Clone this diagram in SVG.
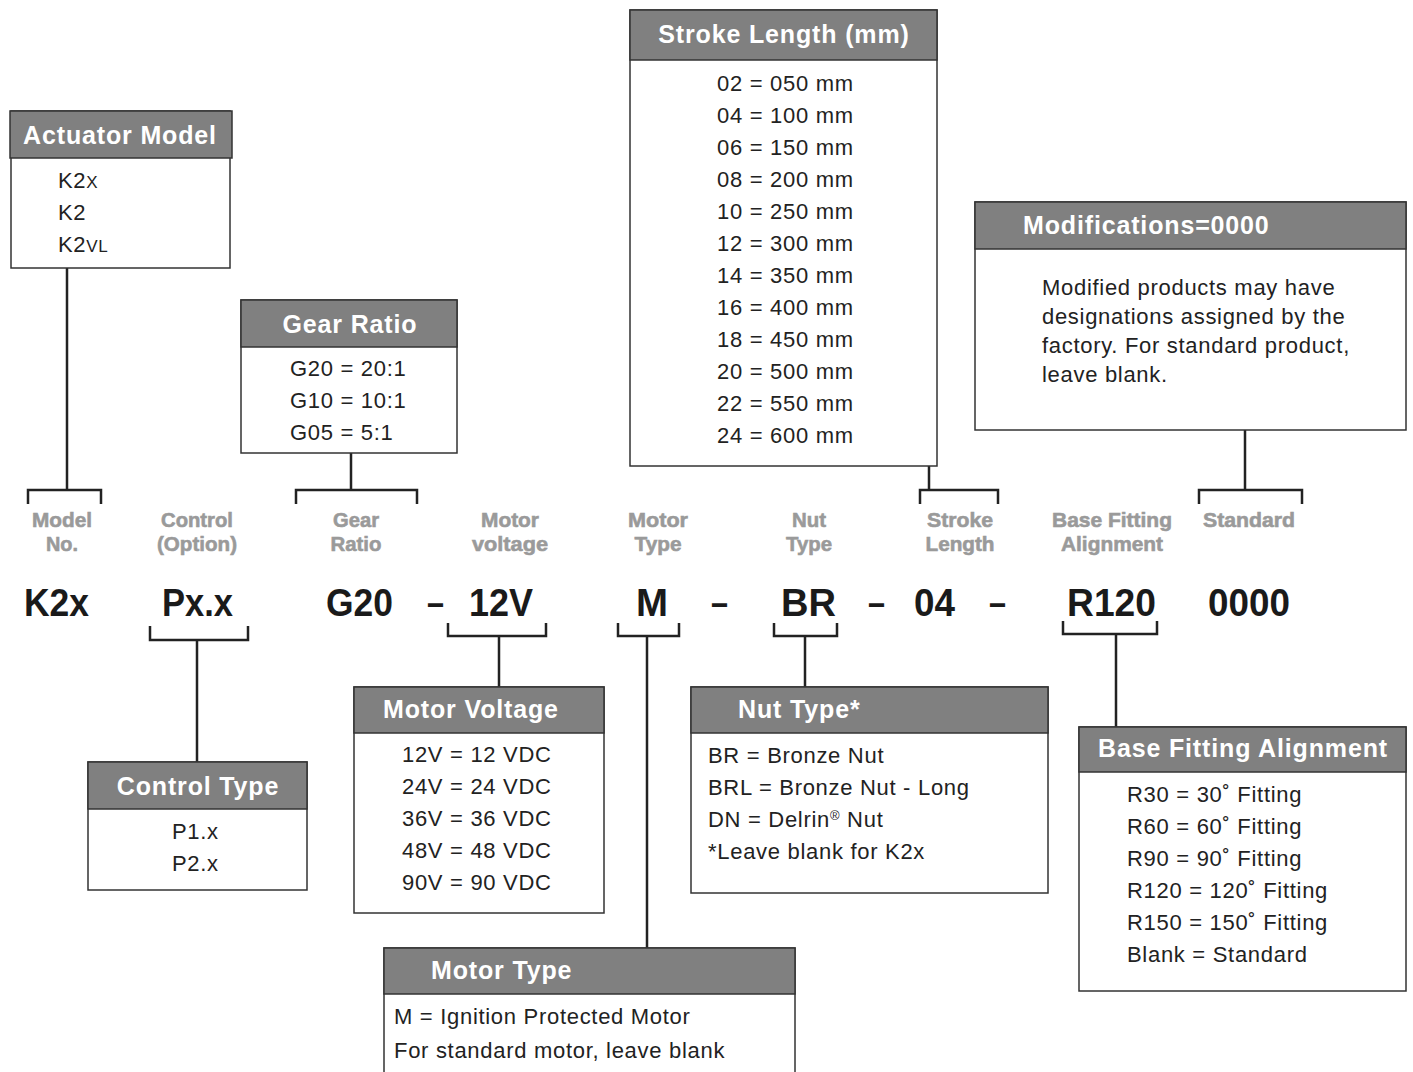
<svg xmlns="http://www.w3.org/2000/svg" width="1413" height="1072" viewBox="0 0 1413 1072">
<style>
.box{fill:#fff;stroke:#333;stroke-width:1.5}
.hdr{fill:#808080;stroke:#333;stroke-width:1.5}
.ht{font-family:"Liberation Sans",Arial,sans-serif;font-weight:bold;font-size:25px;fill:#fff;letter-spacing:0.85px}
.bt{font-family:"Liberation Sans",Arial,sans-serif;font-size:22px;fill:#222;letter-spacing:0.7px}
.lb{font-family:"Liberation Sans",Arial,sans-serif;font-weight:bold;font-size:21px;fill:#9a9a9a;stroke:#9a9a9a;stroke-width:0.6;text-anchor:middle}
.cd{font-family:"Liberation Sans",Arial,sans-serif;font-weight:bold;font-size:38px;fill:#1a1a1a;text-anchor:middle}
.ln{fill:none;stroke:#222;stroke-width:2.5}
</style>

<g id="connectors">
  <path class="ln" d="M67 268V490M28 504V490H101V504"/>
  <path class="ln" d="M351 453V490M296 504V490H417V504"/>
  <path class="ln" d="M929 466V490M920 504V490H998V504"/>
  <path class="ln" d="M1245 430V490M1199 504V490H1302V504"/>
  <path class="ln" d="M150 626V640H248V626M197 640V762"/>
  <path class="ln" d="M448 623V636H546V623M499 636V687"/>
  <path class="ln" d="M618 623V636H679V623M647 636V948"/>
  <path class="ln" d="M774 623V636H837V623M805 636V687"/>
  <path class="ln" d="M1063 621V634H1157V621M1116 634V727"/>
</g>

<g id="labels">
  <text class="lb" x="62" y="527" textLength="60" lengthAdjust="spacingAndGlyphs">Model</text>
  <text class="lb" x="62" y="551" textLength="32" lengthAdjust="spacingAndGlyphs">No.</text>
  <text class="lb" x="197" y="527" textLength="72" lengthAdjust="spacingAndGlyphs">Control</text>
  <text class="lb" x="197" y="551" textLength="80" lengthAdjust="spacingAndGlyphs">(Option)</text>
  <text class="lb" x="356" y="527" textLength="46" lengthAdjust="spacingAndGlyphs">Gear</text>
  <text class="lb" x="356" y="551" textLength="51" lengthAdjust="spacingAndGlyphs">Ratio</text>
  <text class="lb" x="510" y="527" textLength="58" lengthAdjust="spacingAndGlyphs">Motor</text>
  <text class="lb" x="510" y="551" textLength="76" lengthAdjust="spacingAndGlyphs">voltage</text>
  <text class="lb" x="658" y="527" textLength="60" lengthAdjust="spacingAndGlyphs">Motor</text>
  <text class="lb" x="658" y="551" textLength="47" lengthAdjust="spacingAndGlyphs">Type</text>
  <text class="lb" x="809" y="527" textLength="34" lengthAdjust="spacingAndGlyphs">Nut</text>
  <text class="lb" x="809" y="551" textLength="46" lengthAdjust="spacingAndGlyphs">Type</text>
  <text class="lb" x="960" y="527" textLength="66" lengthAdjust="spacingAndGlyphs">Stroke</text>
  <text class="lb" x="960" y="551" textLength="69" lengthAdjust="spacingAndGlyphs">Length</text>
  <text class="lb" x="1112" y="527" textLength="120" lengthAdjust="spacingAndGlyphs">Base Fitting</text>
  <text class="lb" x="1112" y="551" textLength="102" lengthAdjust="spacingAndGlyphs">Alignment</text>
  <text class="lb" x="1249" y="527" textLength="92" lengthAdjust="spacingAndGlyphs">Standard</text>
</g>

<g id="code">
  <text class="cd" x="56.5" y="616" textLength="65" lengthAdjust="spacingAndGlyphs">K2x</text>
  <text class="cd" x="197.5" y="616" textLength="71" lengthAdjust="spacingAndGlyphs">Px.x</text>
  <text class="cd" x="359.5" y="616" textLength="67" lengthAdjust="spacingAndGlyphs">G20</text>
  <text class="cd" x="435.5" y="616" textLength="17" lengthAdjust="spacingAndGlyphs">–</text>
  <text class="cd" x="501" y="616" textLength="64" lengthAdjust="spacingAndGlyphs">12V</text>
  <text class="cd" x="652" y="616" textLength="32" lengthAdjust="spacingAndGlyphs">M</text>
  <text class="cd" x="719.5" y="616" textLength="17" lengthAdjust="spacingAndGlyphs">–</text>
  <text class="cd" x="808.5" y="616" textLength="55" lengthAdjust="spacingAndGlyphs">BR</text>
  <text class="cd" x="876.5" y="616" textLength="17" lengthAdjust="spacingAndGlyphs">–</text>
  <text class="cd" x="934.5" y="616" textLength="41" lengthAdjust="spacingAndGlyphs">04</text>
  <text class="cd" x="997.5" y="616" textLength="17" lengthAdjust="spacingAndGlyphs">–</text>
  <text class="cd" x="1111.5" y="616" textLength="89" lengthAdjust="spacingAndGlyphs">R120</text>
  <text class="cd" x="1249" y="616" textLength="82" lengthAdjust="spacingAndGlyphs">0000</text>
</g>

<g id="actuator-model">
  <rect class="box" x="11" y="111" width="219" height="157"/>
  <rect class="hdr" x="10" y="111" width="222" height="47"/>
  <text class="ht" x="120" y="144" text-anchor="middle">Actuator Model</text>
  <text class="bt" x="58" y="188">K2<tspan font-size="17">X</tspan></text>
  <text class="bt" x="58" y="220">K2</text>
  <text class="bt" x="58" y="252">K2<tspan font-size="17">VL</tspan></text>
</g>

<g id="gear-ratio">
  <rect class="box" x="241" y="300" width="216" height="153"/>
  <rect class="hdr" x="241" y="300" width="216" height="47"/>
  <text class="ht" x="350" y="333" text-anchor="middle">Gear Ratio</text>
  <text class="bt" x="290" y="376">G20 = 20:1</text>
  <text class="bt" x="290" y="408">G10 = 10:1</text>
  <text class="bt" x="290" y="440">G05 = 5:1</text>
</g>

<g id="stroke-length">
  <rect class="box" x="630" y="10" width="307" height="456"/>
  <rect class="hdr" x="630" y="10" width="307" height="50"/>
  <text class="ht" x="784" y="43" text-anchor="middle">Stroke Length (mm)</text>
  <text class="bt" x="717" y="91">02 = 050 mm</text>
  <text class="bt" x="717" y="123">04 = 100 mm</text>
  <text class="bt" x="717" y="155">06 = 150 mm</text>
  <text class="bt" x="717" y="187">08 = 200 mm</text>
  <text class="bt" x="717" y="219">10 = 250 mm</text>
  <text class="bt" x="717" y="251">12 = 300 mm</text>
  <text class="bt" x="717" y="283">14 = 350 mm</text>
  <text class="bt" x="717" y="315">16 = 400 mm</text>
  <text class="bt" x="717" y="347">18 = 450 mm</text>
  <text class="bt" x="717" y="379">20 = 500 mm</text>
  <text class="bt" x="717" y="411">22 = 550 mm</text>
  <text class="bt" x="717" y="443">24 = 600 mm</text>
</g>

<g id="modifications">
  <rect class="box" x="975" y="202" width="431" height="228"/>
  <rect class="hdr" x="975" y="202" width="431" height="47"/>
  <text class="ht" x="1023" y="234">Modifications=0000</text>
  <text class="bt" x="1042" y="295">Modified products may have</text>
  <text class="bt" x="1042" y="324">designations assigned by the</text>
  <text class="bt" x="1042" y="353">factory. For standard product,</text>
  <text class="bt" x="1042" y="382">leave blank.</text>
</g>

<g id="control-type">
  <rect class="box" x="88" y="762" width="219" height="128"/>
  <rect class="hdr" x="88" y="762" width="219" height="47"/>
  <text class="ht" x="198" y="795" text-anchor="middle">Control Type</text>
  <text class="bt" x="172" y="839">P1.x</text>
  <text class="bt" x="172" y="871">P2.x</text>
</g>

<g id="motor-voltage">
  <rect class="box" x="354" y="687" width="250" height="226"/>
  <rect class="hdr" x="354" y="687" width="250" height="46"/>
  <text class="ht" x="383" y="718">Motor Voltage</text>
  <text class="bt" x="402" y="762">12V = 12 VDC</text>
  <text class="bt" x="402" y="794">24V = 24 VDC</text>
  <text class="bt" x="402" y="826">36V = 36 VDC</text>
  <text class="bt" x="402" y="858">48V = 48 VDC</text>
  <text class="bt" x="402" y="890">90V = 90 VDC</text>
</g>

<g id="nut-type">
  <rect class="box" x="691" y="687" width="357" height="206"/>
  <rect class="hdr" x="691" y="687" width="357" height="46"/>
  <text class="ht" x="738" y="718">Nut Type*</text>
  <text class="bt" x="708" y="763">BR = Bronze Nut</text>
  <text class="bt" x="708" y="795">BRL = Bronze Nut - Long</text>
  <text class="bt" x="708" y="827">DN = Delrin<tspan font-size="13" dy="-7">®</tspan><tspan dy="7"> Nut</tspan></text>
  <text class="bt" x="708" y="859">*Leave blank for K2x</text>
</g>

<g id="base-fitting-alignment">
  <rect class="box" x="1079" y="727" width="327" height="264"/>
  <rect class="hdr" x="1079" y="727" width="327" height="45"/>
  <text class="ht" x="1243" y="757" text-anchor="middle">Base Fitting Alignment</text>
  <text class="bt" x="1127" y="802">R30 = 30˚ Fitting</text>
  <text class="bt" x="1127" y="834">R60 = 60˚ Fitting</text>
  <text class="bt" x="1127" y="866">R90 = 90˚  Fitting</text>
  <text class="bt" x="1127" y="898">R120 = 120˚  Fitting</text>
  <text class="bt" x="1127" y="930">R150 = 150˚ Fitting</text>
  <text class="bt" x="1127" y="962">Blank = Standard</text>
</g>

<g id="motor-type">
  <rect class="box" x="384" y="948" width="411" height="140"/>
  <rect class="hdr" x="384" y="948" width="411" height="46"/>
  <text class="ht" x="431" y="979">Motor Type</text>
  <text class="bt" x="394" y="1024">M = Ignition Protected Motor</text>
  <text class="bt" x="394" y="1058">For standard motor, leave blank</text>
</g>
</svg>
